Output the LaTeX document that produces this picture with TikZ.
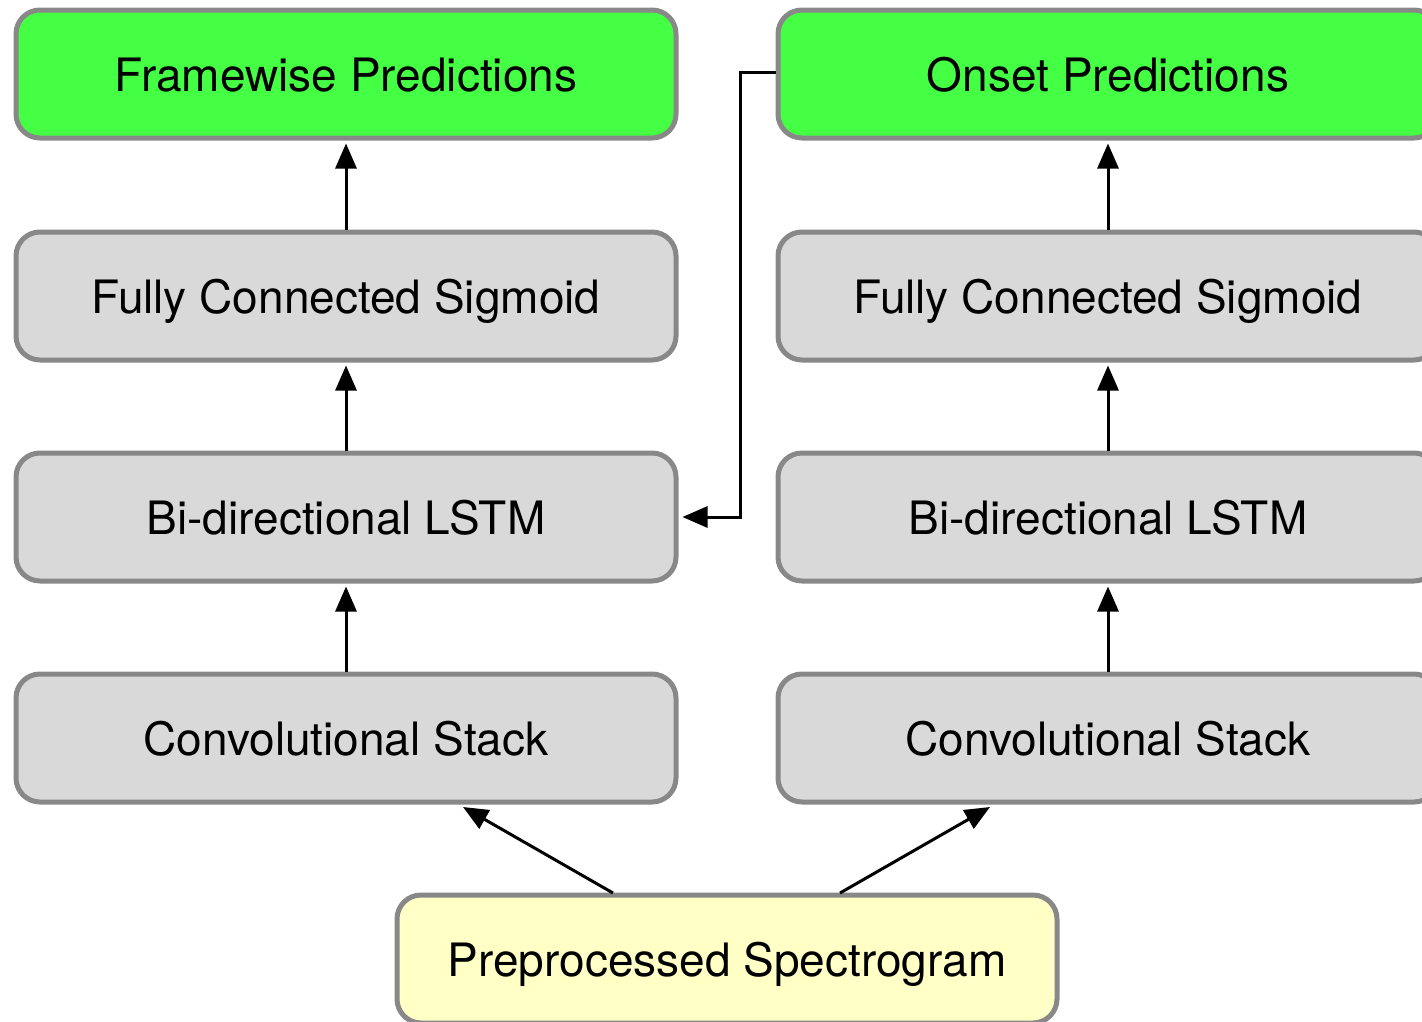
\documentclass[tikz,border=0pt]{standalone}
\usepackage{fontspec}
\setmainfont{TeX Gyre Heros}
\usetikzlibrary{arrows.meta}
\definecolor{boxgray}{HTML}{D9D9D9}
\definecolor{boxgreen}{HTML}{44FF44}
\definecolor{boxyellow}{HTML}{FFFFC6}
\definecolor{edgegray}{HTML}{888888}
\begin{document}
\begin{tikzpicture}[x=1pt,y=-1pt,
  blk/.style={draw=edgegray,line width=5pt,rounded corners=24pt,minimum width=660pt,minimum height=128pt,inner sep=0pt,text height=35pt,text depth=0pt,font=\fontsize{46}{54}\selectfont},
  graybox/.style={blk,fill=boxgray},
  greenbox/.style={blk,fill=boxgreen},
  yellowbox/.style={blk,fill=boxyellow},
  conn/.style={line width=3pt,-{Triangle[length=25pt,width=21pt]}}]
\useasboundingbox (0,0) rectangle (1422,1021);
\node[greenbox] (fp) at (346,74) {Framewise Predictions};
\node[graybox] (fcl) at (346,296) {Fully Connected Sigmoid};
\node[graybox] (ll) at (346,517) {Bi-directional LSTM};
\node[graybox] (cl) at (346,738) {Convolutional Stack};
\node[greenbox] (op) at (1108,74) {Onset Predictions};
\node[graybox] (fcr) at (1108,296) {Fully Connected Sigmoid};
\node[graybox] (lr) at (1108,517) {Bi-directional LSTM};
\node[graybox] (cr) at (1108,738) {Convolutional Stack};
\node[yellowbox] (ps) at (727,959) {Preprocessed Spectrogram};
\draw[conn] (fcl.north) -- ([yshift=-3pt]fp.south);
\draw[conn] (ll.north) -- ([yshift=-3pt]fcl.south);
\draw[conn] (cl.north) -- ([yshift=-3pt]ll.south);
\draw[conn] (fcr.north) -- ([yshift=-3pt]op.south);
\draw[conn] (lr.north) -- ([yshift=-3pt]fcr.south);
\draw[conn] (cr.north) -- ([yshift=-3pt]lr.south);
\coordinate (pl) at (613,893);
\coordinate (pr) at (840,893);
\coordinate (tl) at (463,807);
\coordinate (tr) at (990,807);
\draw[conn] (pl) -- (tl);
\draw[conn] (pr) -- (tr);
\draw[conn] ([yshift=2pt]op.west) -| (740,517) -- ([xshift=4pt]ll.east);
\end{tikzpicture}
\end{document}
